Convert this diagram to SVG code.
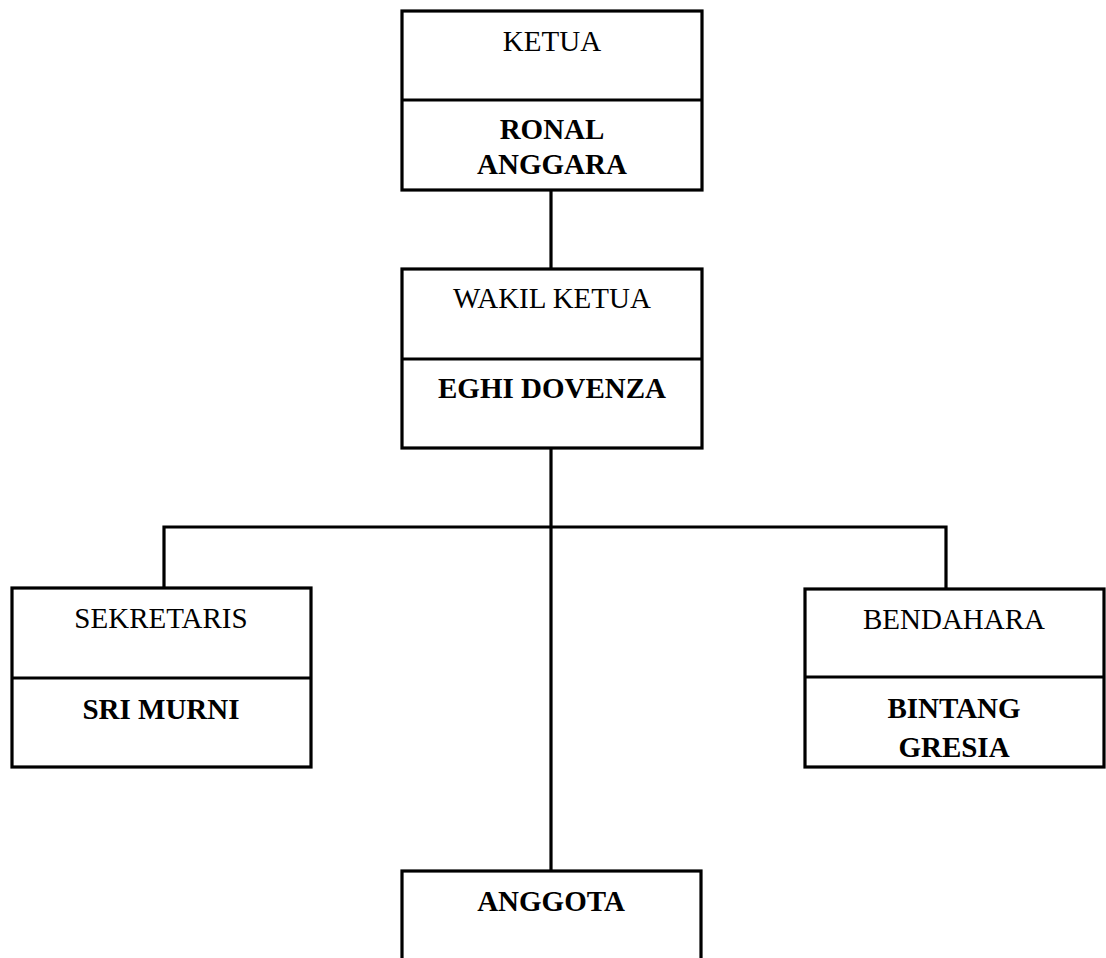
<svg xmlns="http://www.w3.org/2000/svg" width="1106" height="958" viewBox="0 0 1106 958">
<style>
.box{fill:#fff;stroke:#000;stroke-width:3.2}
.div{stroke:#000;stroke-width:3.2}
.con{fill:none;stroke:#000;stroke-width:3.2}
text{font-family:"Liberation Serif","Times New Roman",serif;font-size:29px;fill:#000;text-anchor:middle}
.b{font-weight:bold}
</style>
<rect width="1106" height="958" fill="#fff"/>
<g id="connectors">
<line class="con" x1="551" y1="190" x2="551" y2="269"/>
<line class="con" x1="551" y1="448" x2="551" y2="871"/>
<polyline class="con" points="164,588 164,527 946,527 946,588"/>
</g>
<g id="ketua">
<rect class="box" x="402" y="11" width="300" height="179"/>
<line class="div" x1="402" y1="100" x2="702" y2="100"/>
<text x="552" y="51">KETUA</text>
<text class="b" x="552" y="139">RONAL</text>
<text class="b" x="552" y="174">ANGGARA</text>
</g>
<g id="wakil">
<rect class="box" x="402" y="269" width="300" height="179"/>
<line class="div" x1="402" y1="359" x2="702" y2="359"/>
<text x="552" y="308">WAKIL KETUA</text>
<text class="b" x="552" y="398">EGHI DOVENZA</text>
</g>
<g id="sekretaris">
<rect class="box" x="12" y="588" width="299" height="179"/>
<line class="div" x1="12" y1="678" x2="311" y2="678"/>
<text x="161" y="628">SEKRETARIS</text>
<text class="b" x="161" y="719">SRI MURNI</text>
</g>
<g id="bendahara">
<rect class="box" x="805" y="589" width="299" height="178"/>
<line class="div" x1="805" y1="677" x2="1104" y2="677"/>
<text x="954" y="629">BENDAHARA</text>
<text class="b" x="954" y="718">BINTANG</text>
<text class="b" x="954" y="757">GRESIA</text>
</g>
<g id="anggota">
<rect class="box" x="402" y="871" width="299" height="110"/>
<text class="b" x="551" y="911">ANGGOTA</text>
</g>
</svg>
